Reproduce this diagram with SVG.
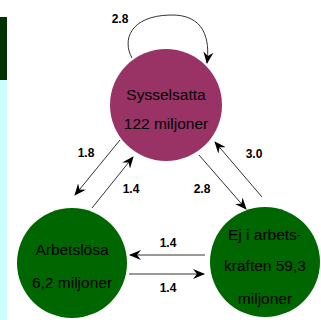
<svg xmlns="http://www.w3.org/2000/svg" width="321" height="320" viewBox="0 0 321 320">
<style>
.node text{font-family:"Liberation Sans",Arial,sans-serif;font-size:15.5px;fill:#000;text-anchor:middle}
.lbl{font-family:"Liberation Sans",Arial,sans-serif;font-size:12px;font-weight:bold;fill:#000;text-anchor:middle}
.c{fill:none;stroke:#333;stroke-width:1;marker-end:url(#ah)}
</style>
<defs>
<marker id="ah" viewBox="0 0 12 10" refX="11" refY="5" markerWidth="12" markerHeight="10" markerUnits="userSpaceOnUse" orient="auto">
<path d="M0,0 L12,5 L0,10 L4,5 Z" fill="#000"/>
</marker>
</defs>
<rect x="0" y="17" width="7" height="63" fill="#003300"/>
<rect x="0" y="80" width="7" height="240" fill="#ccffff"/>
<g id="sysselsatta" class="node">
<circle cx="166" cy="105" r="56" fill="#993366"/>
<text x="166" y="100">Sysselsatta</text>
<text x="166" y="129">122 miljoner</text>
</g>
<g id="arbetslosa" class="node">
<circle cx="72" cy="263" r="55" fill="#006600"/>
<text x="72" y="255">Arbetslösa</text>
<text x="72" y="288">6,2 miljoner</text>
</g>
<g id="ej" class="node">
<circle cx="265" cy="262" r="55" fill="#006600"/>
<text x="265" y="240">Ej i arbets-</text>
<text x="265" y="271">kraften 59,3</text>
<text x="265" y="304">miljoner</text>
</g>
<g id="connectors">
<path class="c" d="M132,58 C122,40 130,16 170,15 C205,14 210,40 207,63"/>
<path class="c" d="M120,140 L75,195"/>
<path class="c" d="M92,208 L133,157"/>
<path class="c" d="M199,155 L246,209"/>
<path class="c" d="M262,197 L215,142"/>
<path class="c" d="M205,255 L130,255"/>
<path class="c" d="M129,274 L204,274" stroke="#666"/>
<text class="lbl" x="120" y="23">2.8</text>
<text class="lbl" x="86" y="157">1.8</text>
<text class="lbl" x="131" y="193">1.4</text>
<text class="lbl" x="202" y="193">2.8</text>
<text class="lbl" x="254" y="158">3.0</text>
<text class="lbl" x="168" y="247">1.4</text>
<text class="lbl" x="168" y="292">1.4</text>
</g>
</svg>
